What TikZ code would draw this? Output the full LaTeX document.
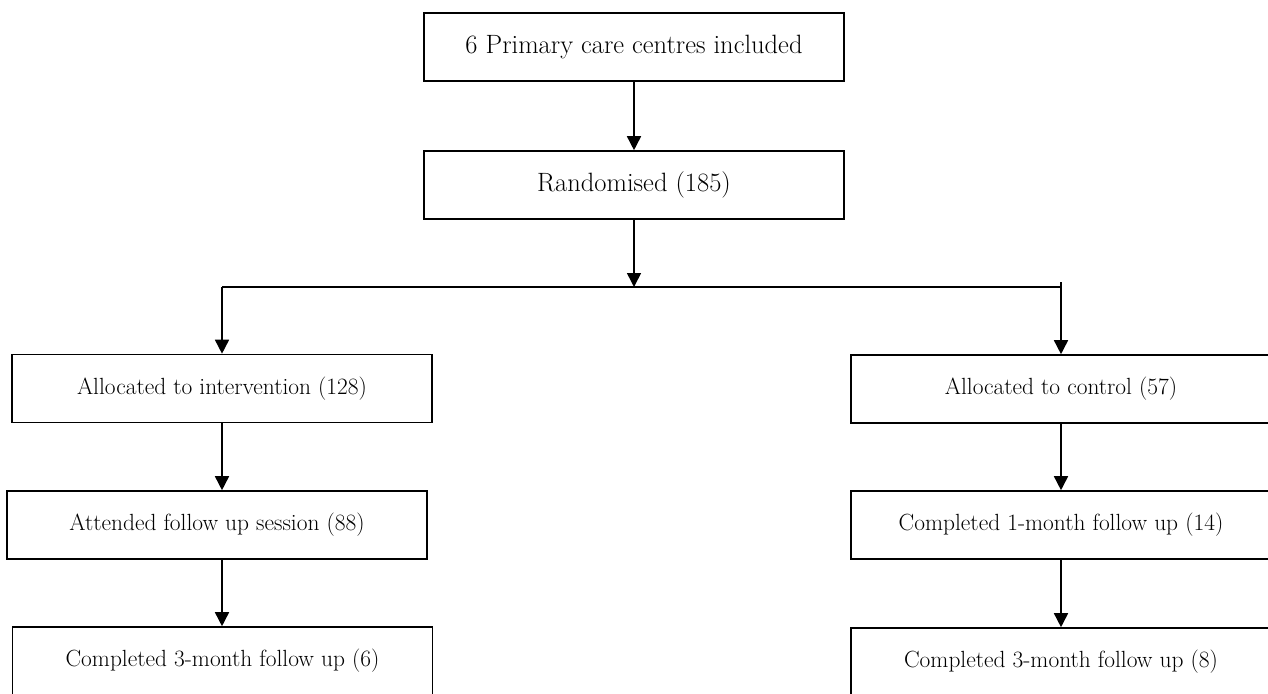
\documentclass[tikz,border=0pt]{standalone}
\usetikzlibrary{arrows.meta}
\begin{document}
\begin{tikzpicture}[x=1pt,y=-1pt,
  box/.style={draw,line width=1.6pt,minimum width=420pt,minimum height=68pt,inner sep=0pt,anchor=center},
  bigtxt/.style={font=\fontsize{26.5}{30}\selectfont},
  smalltxt/.style={font=\fontsize{23.4}{27}\selectfont},
  arr/.style={line width=1.6pt,-{Triangle[length=14pt,width=14pt]}},
  ln/.style={line width=1.6pt}]
\useasboundingbox (0,0) rectangle (1268,693);
\node[box,bigtxt] (top) at (634,47) {6 Primary care centres included};
\node[box,bigtxt] (rand) at (634,185) {Randomised (185)};
\node[box,smalltxt] (int) at (222,388.5) {Allocated to intervention (128)};
\node[box,smalltxt] (att) at (217,525) {Attended follow up session (88)};
\node[box,smalltxt] (c3l) at (222.5,661) {Completed 3-month follow up (6)};
\node[box,smalltxt] (ctl) at (1061,389) {Allocated to control (57)};
\node[box,smalltxt] (c1r) at (1061,525) {Completed 1-month follow up (14)};
\node[box,smalltxt] (c3r) at (1061,662) {Completed 3-month follow up (8)};
\coordinate (jM) at (634,287);
\coordinate (jL) at (222,287);
\coordinate (jR) at (1061,287);
\coordinate (jRt) at (1061,282);
\draw[arr] (top.south) -- (rand.north);
\draw[arr] (rand.south) -- (jM);
\draw[ln] (jL) -- (jR);
\draw[arr] (jL) -- (int.north);
\draw[arr] (jRt) -- (ctl.north);
\draw[arr] (int.south) -- (int.south |- att.north);
\draw[arr] (att.south -| int.south) -- (int.south |- c3l.north);
\draw[arr] (ctl.south) -- (c1r.north);
\draw[arr] (c1r.south) -- (c3r.north);
\end{tikzpicture}
\end{document}
